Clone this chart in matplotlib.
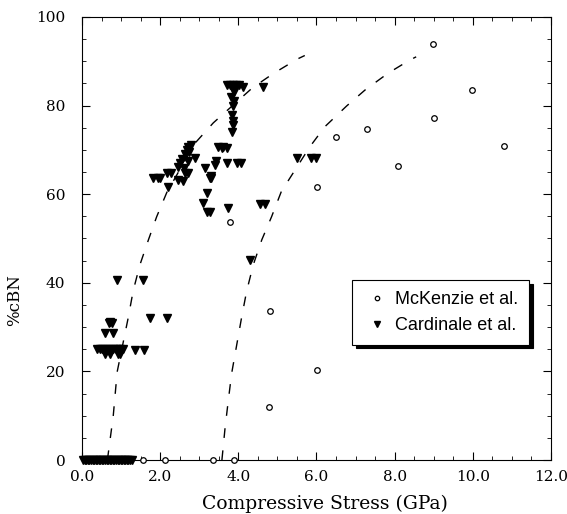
import matplotlib.pyplot as plt
from matplotlib.ticker import MultipleLocator, FormatStrFormatter

# McKenzie et al. (open circles)
mck_x = [1.55, 2.12, 3.35, 3.9, 4.78, 4.81, 6.01, 6.01, 3.79, 6.51, 7.28, 8.09, 8.98, 9.0, 9.98, 10.8]
mck_y = [0, 0, 0, 0, 12, 33.6, 20.3, 61.6, 53.7, 72.8, 74.7, 66.4, 93.9, 77.1, 83.5, 70.9]

# Cardinale et al. (filled down triangles)
car_x = [0.03, 0.07, 0.11, 0.15, 0.19, 0.23, 0.27, 0.31, 0.35, 0.39, 0.43, 0.47, 0.51, 0.55,
         0.59, 0.63, 0.67, 0.71, 0.75, 0.79, 0.83, 0.87, 0.91, 0.95, 0.99, 1.03, 1.07, 1.11,
         1.15, 1.19, 1.23, 1.27,
         0.38, 0.45, 0.52, 0.6, 0.66, 0.72, 0.8, 0.86, 0.92, 0.98, 1.04, 0.6, 0.72, 0.92, 0.98,
         0.59, 0.8, 0.68, 0.72, 0.76, 1.36, 1.59, 1.74, 2.17, 0.9, 1.57,
         1.82, 1.95, 2.0, 2.17, 2.29, 2.21, 2.46, 2.59, 2.63, 2.72, 3.31, 3.27, 3.19, 3.1, 3.19, 3.27,
         2.46, 2.5, 2.56, 2.63, 2.68, 2.72, 2.78, 2.89, 2.6, 2.7, 2.75, 3.15, 3.29,
         3.44, 3.48, 3.61, 3.7, 3.96, 4.08, 3.4, 3.57, 3.7, 3.74, 4.3, 4.55, 4.68,
         5.49, 5.85, 5.98,
         3.7, 3.78, 3.86, 3.94, 4.02, 4.13, 4.64, 3.82, 3.87, 3.9, 3.85, 3.87, 3.84, 3.9, 3.86]
car_y = [0, 0, 0, 0, 0, 0, 0, 0, 0, 0, 0, 0, 0, 0,
         0, 0, 0, 0, 0, 0, 0, 0, 0, 0, 0, 0, 0, 0,
         0, 0, 0, 0,
         25, 25, 25, 25, 25, 25, 25, 25, 25, 25, 25, 24, 24, 24, 24,
         28.6, 28.6, 31, 31.2, 31, 24.8, 24.8, 32, 32, 40.6, 40.6,
         63.6, 63.6, 63.6, 64.7, 64.7, 61.7, 63.2, 62.9, 64.7, 64.7, 64, 63.6, 60.2, 58, 56, 56,
         66.2, 67, 68, 69, 70, 70.7, 71, 68.1, 66, 67.5, 69.5, 65.8, 63.6,
         67.4, 70.7, 70.7, 67, 67, 67, 66.6, 70.4, 70.4, 56.8, 45.1, 57.8, 57.8,
         68.1, 68.1, 68.1,
         84.6, 84.6, 84.6, 84.6, 84.6, 84.1, 84.1, 82, 79.8, 81, 77.9, 75.6, 74.1, 83, 76.5]

# dashed guide curves
c1_x = [0.65, 0.8, 0.9, 1.18, 1.31, 1.48, 1.7, 1.91, 2.17, 2.89, 3.36, 4.36, 4.89, 5.51, 5.7]
c1_y = [0, 10, 19.9, 32, 38.2, 44, 49.7, 54.9, 60.4, 71.5, 76.1, 84, 87.2, 90.5, 91.3]
c2_x = [3.58, 3.66, 3.74, 3.83, 4.08, 4.21, 4.38, 4.6, 4.85, 5.1, 5.83, 6.21, 6.77, 7.24, 7.83, 8.39, 8.55]
c2_y = [0, 7.2, 13.2, 19.6, 32, 38, 44, 49.7, 54.9, 60.6, 70.7, 75.2, 79.9, 83.5, 87.3, 90.3, 91.0]

fig = plt.figure(figsize=(5.67, 5.14), dpi=100)
ax = fig.add_axes([0.1446, 0.105, 0.8272, 0.862])

ax.plot(c1_x, c1_y, color='black', lw=1, dashes=(7, 9))
ax.plot(c2_x, c2_y, color='black', lw=1, dashes=(7, 9))
ax.plot(mck_x, mck_y, 'o', mfc='white', mec='black', ms=4, mew=0.9, ls='none',
        clip_on=False, label='McKenzie et al.', zorder=3)
ax.plot(car_x, car_y, 'v', color='black', ms=5.5, ls='none',
        clip_on=False, label='Cardinale et al.', zorder=3)

ax.set_xlim(0, 12)
ax.set_ylim(0, 100)
ax.xaxis.set_major_locator(MultipleLocator(2))
ax.xaxis.set_minor_locator(MultipleLocator(0.5))
ax.yaxis.set_major_locator(MultipleLocator(20))
ax.yaxis.set_minor_locator(MultipleLocator(5))
ax.xaxis.set_major_formatter(FormatStrFormatter('%.1f'))
ax.tick_params(which='both', direction='in', top=True, right=True)
ax.tick_params(which='major', length=6, labelsize=11)
ax.tick_params(which='minor', length=3)
ax.tick_params(axis='x', which='major', pad=7)
ax.tick_params(axis='y', which='major', pad=12)
for lab in ax.get_xticklabels() + ax.get_yticklabels():
    lab.set_family('DejaVu Serif')

ax.set_xlabel('Compressive Stress (GPa)', family='DejaVu Serif', fontsize=13.5)
ax.set_ylabel('%cBN', family='DejaVu Serif', fontsize=12)
ax.xaxis.set_label_coords(0.518, -0.078)
ax.yaxis.set_label_coords(-0.125, 0.36)

leg = ax.legend(loc='upper left', bbox_to_anchor=(0.576, 0.406), borderaxespad=0,
                fancybox=False, edgecolor='black', framealpha=1,
                prop={'family': 'Liberation Sans', 'size': 13}, markerscale=0.8,
                handletextpad=0.2, handlelength=1.6, borderpad=0.6, labelspacing=0.5,
                shadow={'color': 'black', 'alpha': 1, 'ox': 2.5, 'oy': -2.5})
leg.get_frame().set_linewidth(0.8)

fig.savefig('out.png', dpi=100)
